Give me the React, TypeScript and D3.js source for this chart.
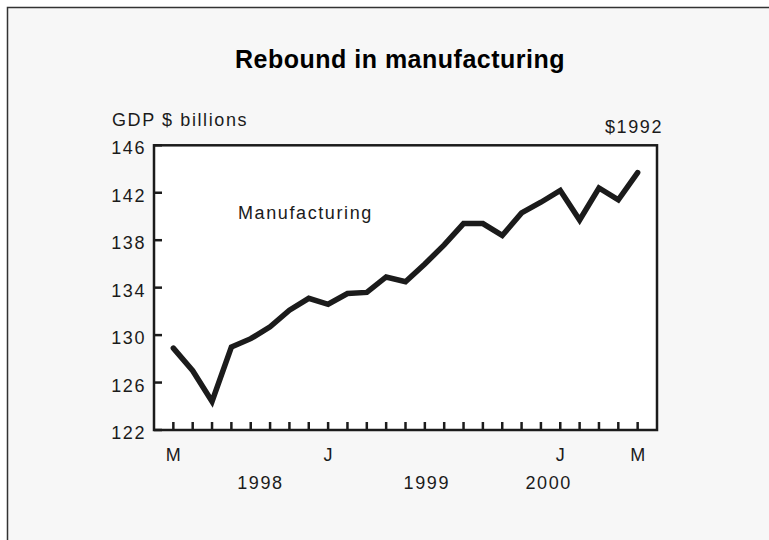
import * as d3 from 'd3';

// monthly, May 1998 .. May 2000
const MONTHS = [
  '1998-05', '1998-06', '1998-07', '1998-08', '1998-09', '1998-10', '1998-11', '1998-12',
  '1999-01', '1999-02', '1999-03', '1999-04', '1999-05', '1999-06', '1999-07', '1999-08',
  '1999-09', '1999-10', '1999-11', '1999-12', '2000-01', '2000-02', '2000-03', '2000-04',
  '2000-05',
];
const MANUFACTURING = [
  128.9, 127.0, 124.4, 129.0, 129.7, 130.7, 132.1, 133.1, 132.6, 133.5, 133.6, 134.9, 134.5,
  136.0, 137.6, 139.4, 139.4, 138.4, 140.3, 141.2, 142.2, 139.7, 142.4, 141.4, 143.7,
];
const Y_TICKS = [122, 126, 130, 134, 138, 142, 146];
const MONTH_LABELS = [
  { month: '1998-05', label: 'M' },
  { month: '1999-01', label: 'J' },
  { month: '2000-01', label: 'J' },
  { month: '2000-05', label: 'M' },
];
// year labels sit between ticks, position given in month steps from the first month
const YEAR_LABELS = [
  { at: 4.5, label: '1998' },
  { at: 13.1, label: '1999' },
  { at: 19.4, label: '2000' },
];

const W = 769;
const H = 540;
const PLOT = { left: 154, right: 657, top: 145.3, bottom: 430 };
const FONT = 'Liberation Sans, Arial, sans-serif';
const INK = '#1b1b1b';

export default function App() {
  const x = d3.scalePoint<string>().domain(MONTHS).range([PLOT.left, PLOT.right]).padding(1);
  const y = d3.scaleLinear().domain([122, 146]).range([PLOT.bottom, PLOT.top]);
  const step = x.step();

  const line = d3
    .line<number>()
    .x((_, i) => x(MONTHS[i]) as number)
    .y((d) => y(d));

  const textStyle = { fontFamily: FONT, fontSize: 18, letterSpacing: 1.6, fill: INK };

  return (
    <svg
      width={W}
      height={H}
      viewBox={`0 0 ${W} ${H}`}
      style={{ position: 'absolute', left: 0, top: 0, background: '#fff' }}
    >
      <rect x={7.5} y={7.5} width={W + 10} height={H + 10} fill="#f7f7f7" stroke="#333" strokeWidth={1.5} />

      <text
        x={400}
        y={68}
        textAnchor="middle"
        style={{ fontFamily: FONT, fontSize: 25, fontWeight: 'bold', letterSpacing: 0.5, fill: '#000' }}
      >
        Rebound in manufacturing
      </text>

      <text x={112} y={126} style={textStyle}>
        GDP $ billions
      </text>
      <text x={663} y={133} textAnchor="end" style={textStyle}>
        $1992
      </text>

      <rect
        x={PLOT.left}
        y={PLOT.top}
        width={PLOT.right - PLOT.left}
        height={PLOT.bottom - PLOT.top}
        fill="#fff"
        stroke={INK}
        strokeWidth={2.5}
      />

      {Y_TICKS.map((t) => (
        <g key={t}>
          <line x1={PLOT.left} x2={PLOT.left + 8} y1={y(t)} y2={y(t)} stroke={INK} strokeWidth={2.5} />
          <text x={146} y={y(t) + 9} textAnchor="end" style={textStyle}>
            {t}
          </text>
        </g>
      ))}

      {MONTHS.map((m) => (
        <line
          key={m}
          x1={x(m)}
          x2={x(m)}
          y1={PLOT.bottom}
          y2={PLOT.bottom - 8}
          stroke={INK}
          strokeWidth={2.5}
        />
      ))}

      {MONTH_LABELS.map((d) => (
        <text key={d.month} x={(x(d.month) as number) + 0.8} y={461} textAnchor="middle" style={textStyle}>
          {d.label}
        </text>
      ))}

      {YEAR_LABELS.map((d) => (
        <text
          key={d.label}
          x={(x(MONTHS[0]) as number) + d.at * step}
          y={489}
          textAnchor="middle"
          style={textStyle}
        >
          {d.label}
        </text>
      ))}

      <text x={238} y={218.5} style={textStyle}>
        Manufacturing
      </text>

      <path
        d={line(MANUFACTURING) ?? ''}
        fill="none"
        stroke={INK}
        strokeWidth={5.5}
        strokeLinejoin="miter"
        strokeLinecap="round"
      />
    </svg>
  );
}
